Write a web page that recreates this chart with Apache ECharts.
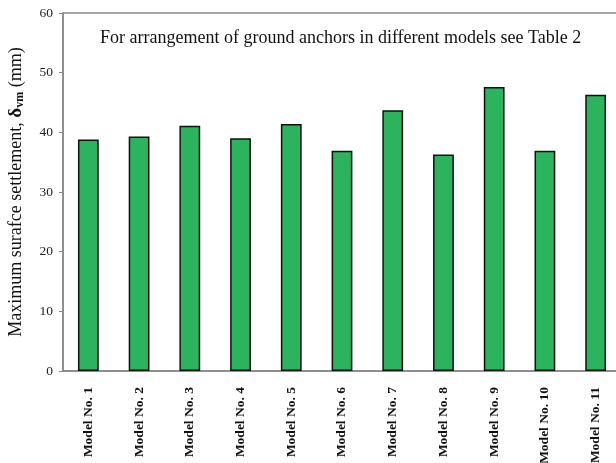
<!DOCTYPE html>
<html>
<head>
<meta charset="utf-8">
<script src="https://cdn.jsdelivr.net/npm/echarts@6/dist/echarts.min.js"></script>
<style>html,body{margin:0;padding:0;background:#fff;}#c{width:616px;height:463px;}</style>
</head>
<body>
<div id="c"></div>
<script>
var categories = ['Model No. 1','Model No. 2','Model No. 3','Model No. 4','Model No. 5','Model No. 6','Model No. 7','Model No. 8','Model No. 9','Model No. 10','Model No. 11'];
var settlement = [38.8, 39.3, 41.1, 39.0, 41.4, 36.9, 43.7, 36.3, 47.6, 36.9, 46.3];
var yTicks = [0, 10, 20, 30, 40, 50, 60];
var titleText = 'For arrangement of ground anchors in different models see Table 2';

var chart = echarts.init(document.getElementById('c'), null, {renderer: 'canvas'});
var serif = '"Liberation Serif", "Times New Roman", serif';
chart.setOption({
  animation: false,
  backgroundColor: '#fff',
  title: {
    text: titleText,
    left: 95,
    top: 24,
    textStyle: {fontFamily: serif, fontSize: 18, fontWeight: 'normal', color: '#111'}
  },
  grid: {
    left: 63, top: 13, width: 558, bottom: 92,
    outerBoundsMode: 'none',
    containLabel: false,
    show: true, borderColor: '#888', borderWidth: 1.5, backgroundColor: 'transparent'
  },
  xAxis: {
    type: 'category',
    data: categories,
    axisLine: {lineStyle: {color: '#888', width: 1.5}},
    axisTick: {show: false},
    axisLabel: {
      rotate: 90, interval: 0, margin: 16,
      fontFamily: serif, fontSize: 13.5, fontWeight: 'bold', color: '#111'
    }
  },
  yAxis: {
    type: 'value',
    min: yTicks[0], max: yTicks[yTicks.length - 1], interval: 10,
    name: 'Maximum surafce settlement, {b|δ}{s|vm} (mm)',
    nameLocation: 'middle',
    nameGap: 37,
    nameTextStyle: {
      fontFamily: serif, fontSize: 18, color: '#111',
      rich: {
        b: {fontFamily: serif, fontSize: 19, fontWeight: 'bold', color: '#111'},
        s: {fontFamily: serif, fontSize: 12, fontWeight: 'bold', color: '#111', padding: [8, 0, 0, 0]}
      }
    },
    axisLine: {show: true, lineStyle: {color: '#888', width: 1.5}},
    axisTick: {show: true, inside: false, length: 4, lineStyle: {color: '#888'}},
    splitLine: {show: false},
    axisLabel: {fontFamily: serif, fontSize: 13.5, color: '#222', margin: 10}
  },
  series: [{
    type: 'bar',
    data: settlement,
    barWidth: '41%',
    itemStyle: {color: '#2bb35e', borderColor: '#111', borderWidth: 1.5}
  }]
});
</script>
</body>
</html>
